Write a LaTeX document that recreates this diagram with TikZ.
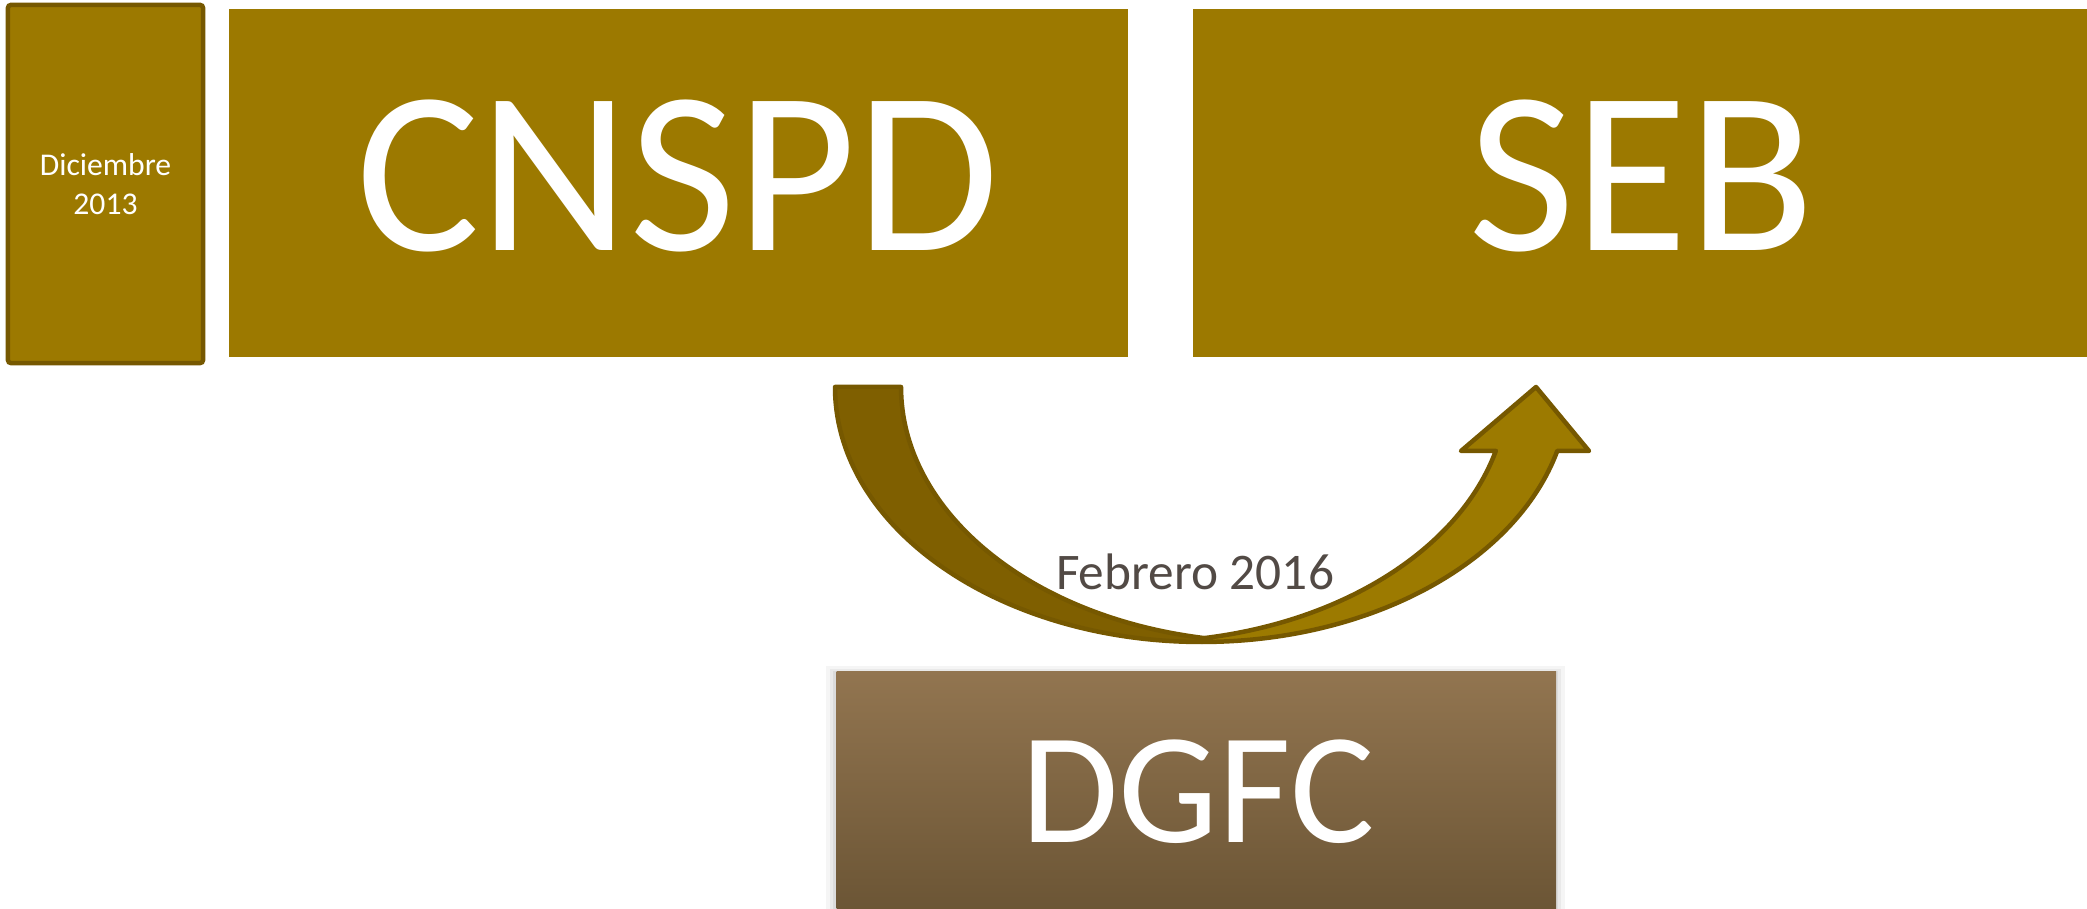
\documentclass[tikz,border=0pt]{standalone}
\usepackage{fontspec}
\setmainfont{Carlito}
\definecolor{boxfill}{RGB}{156,121,0}
\definecolor{boxedge}{RGB}{118,88,0}
\definecolor{banddark}{RGB}{127,95,0}
\definecolor{bandlight}{RGB}{156,122,0}
\definecolor{labelgray}{RGB}{82,74,69}
\definecolor{dgtop}{RGB}{146,117,80}
\definecolor{dgbot}{RGB}{106,84,52}
\tikzset{
  bigbox/.style={fill=boxfill, draw=none, inner sep=0pt, anchor=south west},
  bigtext/.style={text=white, inner sep=0pt, font=\fontsize{66pt}{72pt}\selectfont},
  bandpath/.style={draw=boxedge, line width=0.045cm, line join=round},
}
\begin{document}
\begin{tikzpicture}[x=0.01cm,y=0.01cm]
\useasboundingbox (0,0) rectangle (2087,909);

% date box
\node[fill=boxfill, draw=boxedge, line width=0.045cm, rounded corners=0.03cm,
      minimum width=1.95cm, minimum height=3.58cm, inner sep=0pt,
      align=center, text=white, font=\fontsize{9pt}{11.1pt}\selectfont]
      (date) at (105.5,725) {Diciembre\\2013};

% top boxes
\node[bigbox, minimum width=8.99cm, minimum height=3.48cm] (cnspdbox) at (228,551) {};
\node[bigbox, minimum width=8.99cm, minimum height=3.48cm] (sebbox) at (1192,551) {};
\node[bigtext, anchor=base] (cnspd) at (677.5,658) {CNSPD};
\node[bigtext, anchor=base] (seb) at (1641.5,658) {SEB};

% DGFC box with soft shadow
\fill[black, opacity=0.04] (826,-10) rectangle (1565,243);
\fill[black, opacity=0.05] (830,-10) rectangle (1561,240);
\fill[black, opacity=0.06] (833,-10) rectangle (1558,238);
\node[inner sep=0pt, anchor=south west, top color=dgtop, bottom color=dgbot,
      minimum width=7.19cm, minimum height=2.47cm] (dgfcbox) at (836,-10) {};
\node[bigtext, anchor=base, font=\fontsize{45pt}{50pt}\selectfont] (dgfc) at (1198,66) {DGFC};

% curved up arrow
\coordinate (M) at (1204.3,270.9);
\coordinate (Ltop) at (835,522);
\coordinate (Rtip) at (1536,522);
% right (light) band with arrowhead
\path[bandpath, fill=bandlight]
  (M) arc[start angle=280, end angle=345.5, x radius=367, y radius=255]
  -- (1461,458) -- (Rtip) -- (1589,458) -- (1557.3,458.2)
  arc[start angle=345.5, end angle=270, x radius=367, y radius=255]
  -- cycle;
% left (dark) band
\path[bandpath, fill=banddark]
  (Ltop) arc[start angle=180, end angle=270, x radius=367, y radius=255]
  -- (M)
  arc[start angle=260, end angle=180, x radius=367, y radius=255]
  -- cycle;

\node[text=labelgray, anchor=base, inner sep=0pt,
      font=\fontsize{14.6pt}{17pt}\selectfont] (feb) at (1195,319) {Febrero 2016};
\end{tikzpicture}
\end{document}
